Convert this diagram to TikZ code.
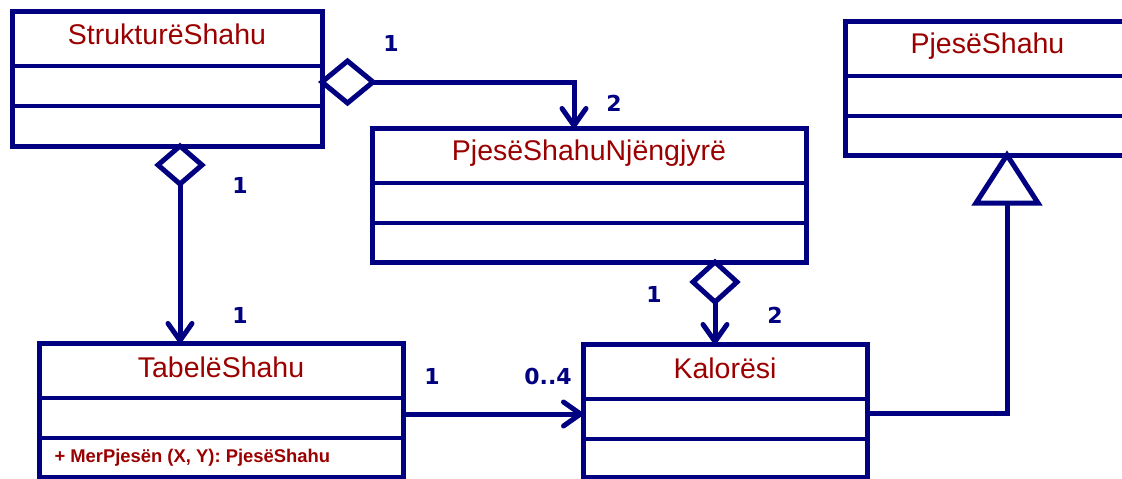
\documentclass[tikz,border=0pt]{standalone}
\usepackage{fontspec}
\setmainfont{Liberation Sans}
\newfontfamily\multfont{DejaVu Sans}
\usetikzlibrary{calc,arrows.meta}
\definecolor{umlnavy}{HTML}{000080}
\definecolor{umlred}{HTML}{9B0000}
\begin{document}
\begin{tikzpicture}[x=1pt,y=-1pt,color=umlnavy,line width=5pt,
  classbox/.style={draw,rectangle,inner sep=0pt,outer sep=0pt},
  divider/.style={line width=4.5pt},
  classname/.style={anchor=base,inner sep=0pt,text=umlred,font=\fontsize{28.5}{30}\selectfont},
  operation/.style={anchor=base west,inner sep=0pt,text=umlred,font=\bfseries\fontsize{18.4}{20}\selectfont},
  mult/.style={text=umlnavy,font=\multfont\bfseries\fontsize{22}{24}\selectfont},
  assoc/.style={-{Straight Barb[length=17pt,width=24pt,round]},line join=miter},
  diam/.style={line join=miter}]
\useasboundingbox (0,0) rectangle (1122,479);

% class boxes
\node[classbox,minimum width=310pt,minimum height=135pt] (S) at (167,78.5) {};
\node[classbox,minimum width=434pt,minimum height=134pt] (N) at (589,195) {};
\node[classbox,minimum width=285pt,minimum height=134pt] (P) at (987.5,88) {};
\node[classbox,minimum width=364pt,minimum height=134pt] (T) at (221,410) {};
\node[classbox,minimum width=284pt,minimum height=133pt] (K) at (725,410.5) {};

% compartment lines
\foreach \c in {S,N,P,T,K}{
  \draw[divider] ($(\c.north west)+(0,55)$) -- ($(\c.north east)+(0,55)$);
  \draw[divider] ($(\c.north west)+(0,95)$) -- ($(\c.north east)+(0,95)$);
}

% class names and operations
\node[classname] (S-name) at ($(S.north)+(0,33)$) {StrukturëShahu};
\node[classname] (N-name) at ($(N.north)+(0,32)$) {PjesëShahuNjëngjyrë};
\node[classname] (P-name) at ($(P.north)+(0,32)$) {PjesëShahu};
\node[classname] (T-name) at ($(T.north)+(0,34)$) {TabelëShahu};
\node[classname] (K-name) at ($(K.north)+(0,34)$) {Kalorësi};
\node[operation] (T-op) at ($(T.north west)+(13,119)$) {+ MerPjesën (X, Y): PjesëShahu};

% StrukturëShahu <>-> PjesëShahuNjëngjyrë
\coordinate (a1) at ($(S.north east)+(0,71)$);
\draw[diam] (a1) -- ++(25.5,-21) -- ++(25.5,21) -- ++(-25.5,21) -- cycle;
\coordinate (a1e) at ($(a1)+(51,0)$);
\coordinate (n-in) at ($(N.north west)+(202,0)$);
\draw[assoc] (a1e) -| (n-in);

% StrukturëShahu <>-> TabelëShahu
\coordinate (a2) at ($(S.south west)+(168,0)$);
\draw[diam] (a2) -- ++(22,19) -- ++(-22,19) -- ++(-22,-19) -- cycle;
\coordinate (a2e) at ($(a2)+(0,38)$);
\draw[assoc] (a2e) -- (a2e |- T.north);

% PjesëShahuNjëngjyrë <>-> Kalorësi
\coordinate (a3) at ($(N.south west)+(343,0)$);
\draw[diam] (a3) -- ++(22,20) -- ++(-22,20) -- ++(-22,-20) -- cycle;
\coordinate (a3e) at ($(a3)+(0,40)$);
\draw[assoc] (a3e) -- (a3e |- K.north);

% TabelëShahu -> Kalorësi
\coordinate (a4) at ($(T.north east)+(0,71)$);
\draw[assoc] (a4) -- (a4 -| K.west);

% Kalorësi --|> PjesëShahu
\coordinate (g0) at ($(K.north east)+(0,69)$);
\coordinate (g-apex) at ($(P.south west)+(162,0)$);
\coordinate (g-base) at ($(g-apex)+(0,48)$);
\draw (g0) -| (g-base);
\draw[line join=miter] (g-apex) -- ($(g-base)+(31,0)$) -- ($(g-base)+(-31,0)$) -- cycle;

% multiplicities
\node[mult] (m1) at (391,43) {1};
\node[mult] (m2) at (614,103) {2};
\node[mult] (m3) at (240,185) {1};
\node[mult] (m4) at (240,315) {1};
\node[mult] (m5) at (432,376) {1};
\node[mult] (m6) at (548,376) {0..4};
\node[mult] (m7) at (654,294) {1};
\node[mult] (m8) at (775,315) {2};
\end{tikzpicture}
\end{document}
